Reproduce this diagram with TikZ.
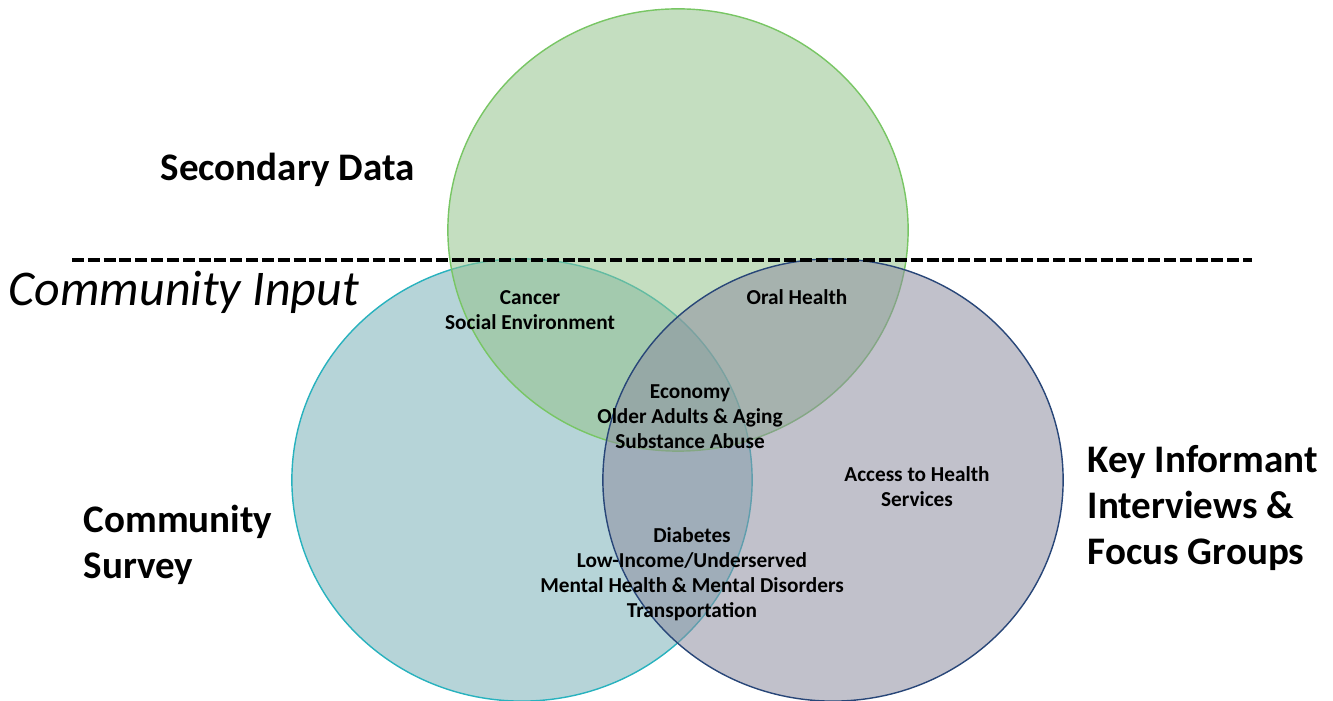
\documentclass[tikz,border=0pt]{standalone}
\usepackage{fontspec}
\setmainfont{Carlito}
\usepackage{tikz}
\usetikzlibrary{shapes.geometric}
\definecolor{sdgreen}{RGB}{148,195,140}
\definecolor{sdgreenline}{RGB}{120,198,100}
\definecolor{csteal}{RGB}{122,177,184}
\definecolor{cstealline}{RGB}{40,178,190}
\definecolor{kigrey}{RGB}{142,142,160}
\definecolor{kigreyline}{RGB}{40,70,120}

\begin{document}
\begin{tikzpicture}[
  x=0.01cm,y=-0.01cm,
  venn/.style={ellipse,inner sep=0pt,minimum width=4.6cm,minimum height=4.42cm,fill opacity=0.55,line width=0.4pt},
  setlabel/.style={align=left,anchor=west,inner sep=0pt,font=\fontsize{11.1}{13}\selectfont\bfseries},
  topic/.style={align=center,inner sep=0pt,font=\fontsize{6.05}{7.1}\selectfont\bfseries},
  divider/.style={line width=1.05pt,dash pattern=on 3.4pt off 1.1pt}
]
  \useasboundingbox (0,0) rectangle (1333,701);
  \node[venn,fill=csteal,draw=cstealline] (survey) at (522,480) {};
  \node[venn,fill=sdgreen,draw=sdgreenline] (secondary) at (678,230) {};
  \node[venn,fill=kigrey,draw=kigreyline] (informant) at (833,480) {};
  \coordinate (dashL) at (72,260);
  \coordinate (dashR) at (1252,260);
  \draw[divider] (dashL) -- (dashR);
  \node[setlabel] (secondarylbl) at (160,170) {Secondary Data};
  \node[setlabel,font=\fontsize{14.2}{17}\selectfont\itshape] (inputlbl) at (8,292) {Community Input};
  \node[setlabel] (surveylbl) at (83,545) {Community\\Survey};
  \node[setlabel] (informantlbl) at (1087,508) {Key Informant\\Interviews \&\\Focus Groups};
  \node[topic] (cancer) at (530,310) {Cancer\\Social Environment};
  \node[topic] (oral) at (797,297) {Oral Health};
  \node[topic] (economy) at (690,417) {Economy\\Older Adults \& Aging\\Substance Abuse};
  \node[topic] (access) at (917,487) {Access to Health\\Services};
  \node[topic] (diabetes) at (692,574) {Diabetes\\Low-Income/Underserved\\Mental Health \& Mental Disorders\\Transportation};
\end{tikzpicture}
\end{document}
